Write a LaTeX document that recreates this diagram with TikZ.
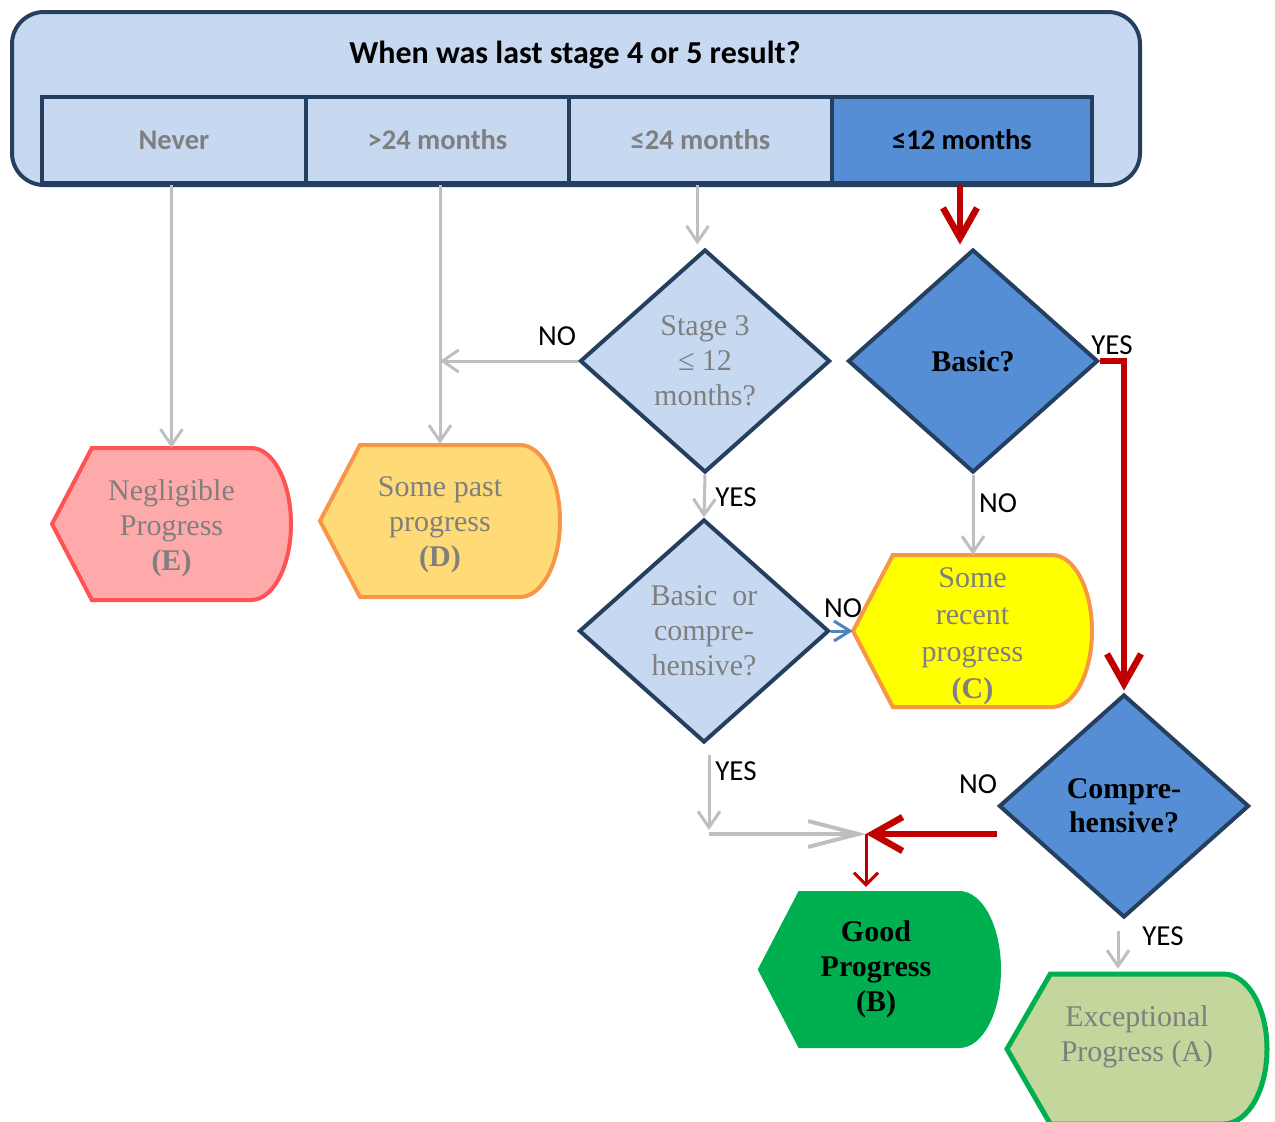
\documentclass[tikz,border=0pt]{standalone}
\usepackage{fontspec}
\setmainfont{Liberation Serif}
\newfontfamily\calfont{Carlito}
\usetikzlibrary{arrows.meta,shapes.geometric}
\definecolor{navy}{HTML}{243F60}
\definecolor{lblue}{HTML}{C6D9F1}
\definecolor{mblue}{HTML}{558ED5}
\definecolor{tgray}{HTML}{7F7F7F}
\definecolor{agray}{HTML}{BFBFBF}
\definecolor{dred}{HTML}{C00000}
\definecolor{pinkE}{HTML}{FFAAAA}
\definecolor{redE}{HTML}{FF5353}
\definecolor{yelD}{HTML}{FFDB77}
\definecolor{orD}{HTML}{F79646}
\definecolor{yelC}{HTML}{FFFF00}
\definecolor{grB}{HTML}{00B050}
\definecolor{grA}{HTML}{C3D69B}
\definecolor{barrow}{HTML}{4F81BD}
\newcommand\dispshape[9]{% name, cx, cy, w, h, path style, text style, text, text y
  \path[#6] ({#2-#4/2},#3) -- ({#2-#4/3},{#3-#5/2}) -- ({#2+#4/3},{#3-#5/2})
    arc[start angle=-90,end angle=90,x radius={#4/6},y radius={#5/2}]
    -- ({#2-#4/3},{#3+#5/2}) -- cycle;
  \node[minimum width=#4, minimum height=#5, inner sep=0] (#1) at (#2,#3) {};
  \node[align=center, inner sep=0, #7] (#1t) at ([xshift=\dispdx]#2,#9) {#8};
}
\newcommand\dispdx{0pt}
\begin{document}
\begin{tikzpicture}[x=1pt,y=-1pt,
  hdrbox/.style={draw=navy, line width=4, fill=lblue, rounded corners=32, minimum width=1128, minimum height=173, inner sep=0},
  cell/.style={draw=navy, line width=4, fill=lblue, minimum height=86, inner sep=0, text=tgray, font=\calfont\bfseries\fontsize{28.5}{33}\selectfont},
  dia/.style={diamond, draw=navy, line width=4, minimum width=250, minimum height=223, inner sep=0, align=center, text=tgray, font=\fontsize{30}{35}\selectfont},
  diab/.style={dia, fill=mblue, text=black, font=\bfseries\fontsize{30}{34}\selectfont},
  dtxt/.style={text=tgray, font=\fontsize{30}{35}\selectfont},
  lbl/.style={font=\calfont\fontsize{29}{33}\selectfont, text=black, inner sep=0},
  garr/.style={draw=agray, line width=3, -{Straight Barb[length=16pt,width=22pt]}},
  garrbig/.style={draw=agray, line width=4, -{Straight Barb[length=50pt,width=26pt]}},
  rarr/.style={draw=dred, line width=6.5, -{Straight Barb[length=30pt,width=34pt]}},
  rarrs/.style={draw=dred, line width=3, -{Straight Barb[length=12pt,width=24pt]}},
  barr/.style={draw=barrow, line width=3, -{Straight Barb[length=16pt,width=20pt]}}
]
\useasboundingbox (0,0) rectangle (1275,1122);

% header
\node[hdrbox] (hdr) at (576,98.5) {};
\node[font=\calfont\bfseries\fontsize{32}{38}\selectfont] (title) at (575,55) {When was last stage 4 or 5 result?};
\node[cell, minimum width=264] (c1) at (174,140) {Never};
\node[cell, minimum width=263] (c2) at (437.5,140) {>24 months};
\node[cell, minimum width=263] (c3) at (700.5,140) {≤24 months};
\node[cell, minimum width=260, fill=mblue, text=black] (c4) at (962,140) {≤12 months};

% diamonds
\node[dia, fill=lblue] (s3) at (705,361) {Stage 3\\≤ 12\\months?};
\node[diab] (basic) at (973,361) {Basic?};
\node[dia, fill=lblue] (boc) at (704,631) {Basic\ \ or\\compre-\\hensive?};
\node[diab] (comp) at (1124,806) {Compre-\\hensive?};

% outcome shapes
\dispshape{E}{171.5}{524}{239}{152}{draw=redE, fill=pinkE, line width=4}{dtxt}{Negligible\\Progress\\\textbf{(E)}}{528}
\dispshape{D}{440}{521}{240}{152}{draw=orD, fill=yelD, line width=4}{dtxt}{Some past\\progress\\\textbf{(D)}}{525}
\dispshape{C}{972.5}{631}{239}{152}{draw=orD, fill=yelC, line width=4}{dtxt, font=\fontsize{30}{37}\selectfont}{Some\\recent\\progress\\\textbf{(C)}}{636}
\renewcommand\dispdx{-3.5pt}
\dispshape{B}{879.5}{969.5}{239}{153}{draw=grB, fill=grB, line width=4}{text=black, font=\bfseries\fontsize{30}{35}\selectfont}{Good\\Progress\\(B)}{969}
\renewcommand\dispdx{0pt}
\dispshape{A}{1137}{1049}{260}{150}{draw=grB, fill=grA, line width=5}{dtxt}{Exceptional\\Progress (A)}{1037}

% helper coordinates
\coordinate (jn) at (866,834);
\coordinate (yesB) at (709,755);
\coordinate (yesE) at (709,830);
\coordinate (ayes) at (1118,931);

% connectors
\draw[garr] (c1.south -| E.north) -- (E.north);
\draw[garr] (c2.south -| D.north) -- ([yshift=1]D.north);
\draw[garr] (s3.west) -- (s3.west -| D.north);
\draw[garr] ([xshift=-3]c3.south) -- ([xshift=-3,yshift=3]c3.south |- s3.north);
\draw[garr] (s3.south) -- (boc.north);
\draw[barr] (boc.east) -- (C.west);
\draw[garr] (yesB) -- (yesE);
\draw[garrbig] (yesE |- jn) -- (jn);
\draw[garr] (basic.south) -- (basic.south |- C.north);
\draw[rarr] ([xshift=-2]c4.south) -- ([xshift=-2,yshift=3]c4.south |- basic.north);
\draw[rarr] (basic.east) -- (basic.east -| comp.north) -- ([yshift=2]comp.north);
\draw[rarr] (comp.west |- jn) -- (jn);
\draw[rarrs] (jn) -- ([yshift=6]jn |- B.north);
\draw[garr] (ayes) -- ([yshift=5]ayes |- A.north);

% labels
\node[lbl] (l1) at (557,336) {NO};
\node[lbl] (l2) at (736,497) {YES};
\node[lbl] (l3) at (998,503) {NO};
\node[lbl] (l4) at (1112,345) {YES};
\node[lbl] (l5) at (843,608) {NO};
\node[lbl] (l6) at (736,771) {YES};
\node[lbl] (l7) at (978,784) {NO};
\node[lbl] (l8) at (1163,936) {YES};
\end{tikzpicture}
\end{document}
